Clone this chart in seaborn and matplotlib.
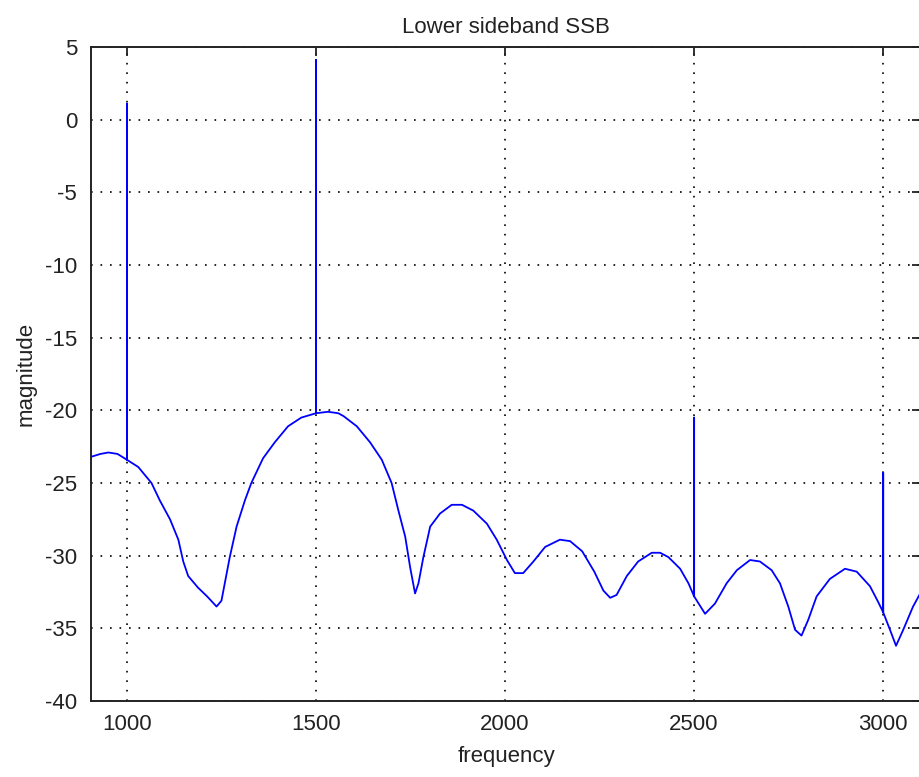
import pandas as pd
import matplotlib
matplotlib.use('Agg')
import matplotlib.pyplot as plt
import seaborn as sns

# values
freq = [905, 930, 951, 975, 1000, 1030, 1065, 1087, 1114, 1136, 1149, 1162, 1188, 1212, 1237,
        1250, 1272, 1290, 1312, 1329, 1360, 1391, 1426, 1461, 1500, 1532, 1559,
        1573, 1608, 1643, 1674, 1700, 1718, 1736, 1749, 1762, 1771, 1784, 1802,
        1828, 1859, 1886, 1916, 1952, 1978, 2005, 2026, 2048, 2075, 2106, 2145,
        2172, 2204, 2236, 2260, 2278, 2295, 2322, 2352, 2388, 2410, 2432, 2463,
        2485, 2500, 2529, 2555, 2586, 2613, 2648, 2674, 2705, 2727, 2749, 2767,
        2784, 2802, 2824, 2859, 2899, 2930, 2965, 2987, 3000, 3018, 3034, 3053,
        3079, 3100]
mag = [-23.2, -23.0, -22.9, -23.0, -23.4, -23.9, -25.0, -26.2, -27.5, -28.9, -30.4, -31.4, -32.2, -32.8, -33.5,
       -33.1, -30.1, -28.0, -26.2, -25.0, -23.3, -22.2, -21.1, -20.5, -20.2, -20.1, -20.2,
       -20.4, -21.1, -22.2, -23.4, -25.0, -26.9, -28.7, -30.8, -32.6, -31.9, -30.1, -28.0,
       -27.1, -26.5, -26.5, -26.9, -27.8, -28.9, -30.3, -31.2, -31.2, -30.4, -29.4, -28.9,
       -29.0, -29.7, -31.1, -32.4, -32.9, -32.7, -31.4, -30.4, -29.8, -29.8, -30.1, -30.9,
       -31.9, -32.8, -34.0, -33.3, -31.9, -31.0, -30.3, -30.4, -31.0, -31.9, -33.5, -35.1,
       -35.5, -34.4, -32.8, -31.6, -30.9, -31.1, -32.1, -33.2, -33.9, -35.1, -36.2, -35.1,
       -33.5, -32.5]

# tones on top of the noise floor
spike_freq = [1000, 1500, 2500, 3000]
spike_peak = [1.1, 4.1, -20.5, -24.3]

# build one trace: each tone goes straight up and back at its frequency
xs, ys = [], []
for f, m in zip(freq, mag):
    xs.append(f)
    ys.append(m)
    if f in spike_freq:
        p = spike_peak[spike_freq.index(f)]
        xs += [f, f]
        ys += [p, m]
df = pd.DataFrame({'frequency': xs, 'magnitude': ys})

sns.set_style('white')
plt.rcParams['font.family'] = ['Liberation Sans', 'DejaVu Sans']
plt.rcParams['axes.unicode_minus'] = False
plt.rcParams['xtick.direction'] = 'in'
plt.rcParams['ytick.direction'] = 'in'

fig = plt.figure(figsize=(9.19, 7.77), dpi=100)
ax = fig.add_axes([91 / 919, 1 - 701 / 777, 830 / 919, 654 / 777])

sns.lineplot(data=df, x='frequency', y='magnitude', sort=False, estimator=None,
             color='#0000ff', linewidth=1.3, ax=ax)

ax.set_xlim(905, 3100)
ax.set_ylim(-40, 5)
ax.set_xticks([1000, 1500, 2000, 2500, 3000])
ax.set_yticks(range(-40, 6, 5))
ax.grid(True, color='black', linestyle=(0, (1, 4.7)), linewidth=1.2)
ax.tick_params(which='both', top=True, right=True, length=6.5, width=1.3,
               color='#222222', labelsize=16, labelcolor='#222222')
ax.tick_params(axis='x', pad=9)
ax.tick_params(axis='y', pad=10)
for s in ax.spines.values():
    s.set_color('#222222')
    s.set_linewidth(1.4)

ax.set_title('Lower sideband SSB', fontsize=16, color='#222222', pad=10)
ax.set_xlabel('frequency', fontsize=16, color='#222222', labelpad=8)
ax.set_ylabel('magnitude', fontsize=16, color='#222222', labelpad=6)

fig.savefig('out.png', dpi=100)
